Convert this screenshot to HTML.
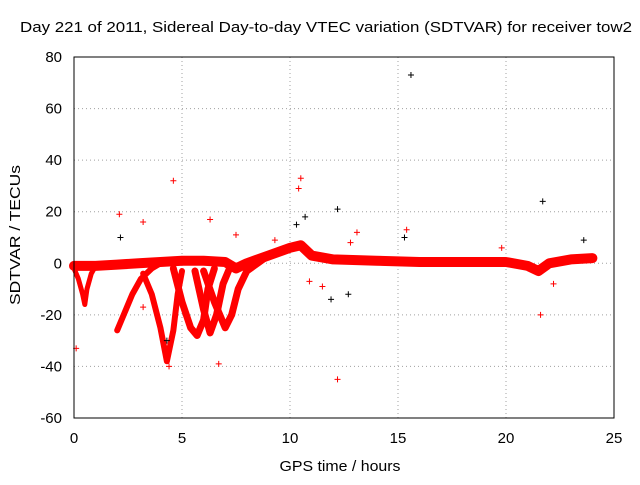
<!DOCTYPE html>
<html><head><meta charset="utf-8"><style>
body{margin:0;background:#fff;}
svg text{font-family:"Liberation Sans",sans-serif;font-size:15px;fill:#000;}
</style></head><body>
<svg id="chart" width="640" height="480">
<rect width="640" height="480" fill="#fff"/>
<text x="326" y="32" text-anchor="middle" textLength="612" lengthAdjust="spacingAndGlyphs">Day 221 of 2011, Sidereal Day-to-day VTEC variation (SDTVAR) for receiver tow2</text>
<text x="340" y="471" text-anchor="middle" textLength="121" lengthAdjust="spacingAndGlyphs">GPS time / hours</text>
<text x="20" y="235" text-anchor="middle" textLength="140" lengthAdjust="spacingAndGlyphs" transform="rotate(-90 20 235)">SDTVAR / TECUs</text>
<g id="grid"></g><g id="ticks"></g><g id="bands"></g><g id="points"></g>
<rect x="74" y="57" width="540" height="361" fill="none" stroke="#000"/>
</svg>
<script>
const xTicks=[0,5,10,15,20,25];
const yTicks=[-60,-40,-20,0,20,40,60,80];
const mainBand=[[0,-1],[1,-1],[2,-0.5],[3,0],[4,0.5],[5,1],[6,1],[7,0.5],[7.5,-2],[8,0],[9,3],[10,6],[10.5,7],[11,3],[12,1.5],[14,1],[16,0.5],[18,0.5],[20,0.5],[21,-1],[21.5,-3],[22,0],[23,1.5],[24,2]];
const traceEarly=[[0,-2],[0.2,-6],[0.4,-12],[0.5,-16],[0.6,-10],[0.8,-4],[1,-1]];
const traceA=[[2,-26],[2.3,-20],[2.7,-12],[3.1,-6],[3.6,-2],[4,0]];
const traceB=[[3.2,-4],[3.6,-12],[4,-25],[4.3,-38],[4.6,-26],[4.8,-12],[5,-3]];
const traceC=[[4.6,-2],[5,-15],[5.4,-25],[5.7,-28],[6,-22],[6.2,-10],[6.5,-2]];
const traceD=[[5.6,-3],[6,-18],[6.3,-27],[6.6,-20],[6.9,-8],[7.2,-2]];
const traceE=[[6,-3],[6.5,-15],[7,-25],[7.3,-20],[7.6,-10],[8,-3],[8.5,0],[9,3],[9.5,5],[10,6]];
const outX=[15.6,4.6,10.5,10.7,12.2,2.1,2.15,3.2,6.3,21.7,21.6,0.1,12.2,6.7,10.4,10.3,3.2,4.4,4.3,13.1,12.8,15.3,15.4,19.8,23.6,22.2,11.5,11.9,10.9,9.3,12.7,7.5];
const outY=[73,32,33,18,-45,19,10,16,17,24,-20,-33,21,-39,29,15,-17,-40,-30,12,8,10,13,6,9,-8,-9,-14,-7,9,-12,11];
const X=v=>74+v*21.6, Y=v=>57+(80-v)*361/140;
const ns="http://www.w3.org/2000/svg";
function mk(tag,at,parent){const e=document.createElementNS(ns,tag);for(const k in at)e.setAttribute(k,at[k]);document.getElementById(parent).appendChild(e);return e;}
xTicks.forEach(t=>{
 const g=mk('line',{x1:X(t),x2:X(t),y1:57,y2:418,stroke:'#a0a0a0','stroke-dasharray':'1,3'},'grid');
 
 
 const l=mk('text',{x:X(t),y:443,'text-anchor':'middle'},'ticks');l.textContent=t;
 
 
});
yTicks.forEach(t=>{
 const g=mk('line',{x1:74,x2:614,y1:Y(t),y2:Y(t),stroke:'#a0a0a0','stroke-dasharray':'1,3'},'grid');
 
 
 const l=mk('text',{x:62,y:Y(t)+5,'text-anchor':'end'},'ticks');l.textContent=t;
 
 
});
function band(arr,w,name){
 const p=mk('polyline',{points:arr.map(d=>X(d[0])+','+Y(d[1])).join(' '),fill:'none',stroke:'#ff0000','stroke-width':w,'stroke-linejoin':'round','stroke-linecap':'round'},'bands');
 
 
}
band(mainBand,10,'main-band');
band(traceEarly,5,'trace-early');
band(traceA,6,'trace-a');
band(traceB,6,'trace-b');
band(traceC,7,'trace-c');
band(traceD,7,'trace-d');
band(traceE,7,'trace-e');
outX.forEach((x,i)=>{
 const cx=X(x),cy=Y(outY[i]);
 const p=mk('path',{d:`M${cx-3},${cy}h6M${cx},${cy-3}v6`,stroke:i%3==0?'#000':'#ff0000','stroke-width':1},'points');
 
 
});
</script>
</body></html>
